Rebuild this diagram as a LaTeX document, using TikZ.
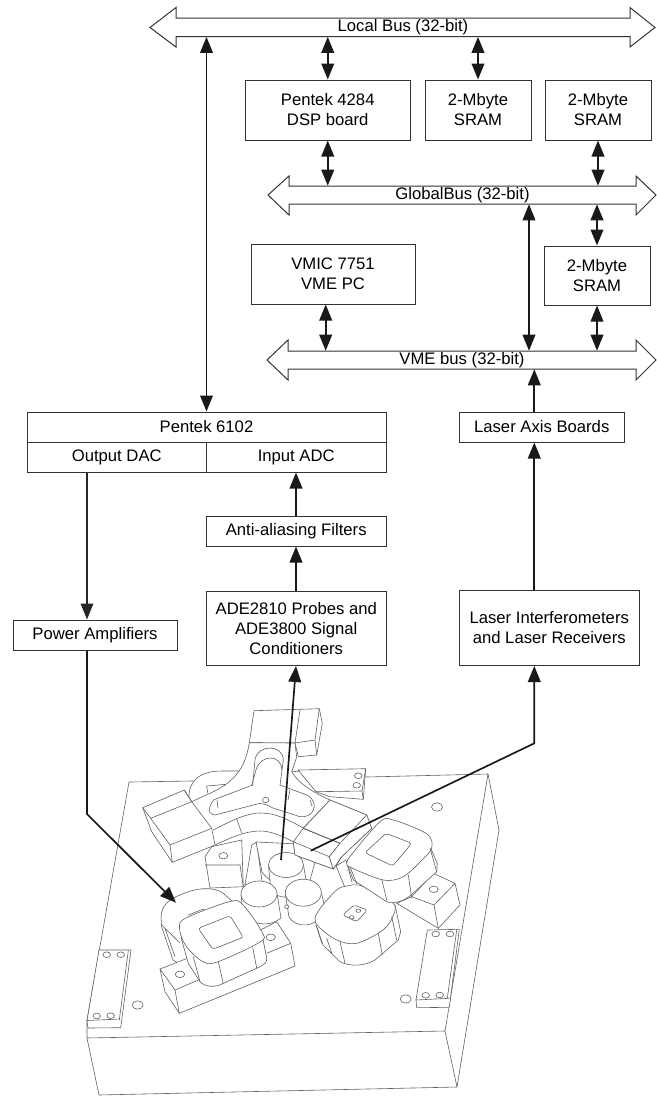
\documentclass[tikz,border=0pt]{standalone}
\usepackage{fontspec}
\setmainfont{Liberation Sans}
\usetikzlibrary{arrows.meta}
\tikzset{
  boxn/.style={draw=black!80,line width=0.75pt,inner sep=0pt,align=center,font=\fontsize{12.5}{15}\selectfont},
  busn/.style={inner sep=0pt,font=\fontsize{12.5}{15}\selectfont},
  busout/.style={draw=black!80,line width=0.75pt,line join=miter},
  tipa/.style={},
  link/.style={draw=black!90,line width=1.25pt,-{Triangle[length=12pt,width=9.5pt]}},
  thinlink/.style={draw=black!85,line width=0.8pt,-{Triangle[length=12pt,width=9.5pt]}},
  dbl/.style={draw=black!90,line width=1.25pt,{Triangle[length=12pt,width=9.5pt]}-{Triangle[length=12pt,width=9.5pt]}},
  mech/.style={draw=black!62,line width=0.45pt,fill=white,line join=round},
  mline/.style={draw=black!62,line width=0.45pt,line join=round},
}
\newcommand{\pbox}[6]{\node[boxn,minimum width={(#4-#2)*0.75pt},minimum height={(#5-#3)*0.75pt}] (#1) at ({(#2+#4)/2},{(#3+#5)/2}) {#6};}
\newcommand{\hole}[2]{\draw[mech] (#1,#2) ellipse [x radius=3.8,y radius=2.8];}
\newcommand{\bhole}[2]{\draw[mech] (#1,#2) ellipse [x radius=5.5,y radius=4.2];}
\begin{document}
\begin{tikzpicture}[x=0.75pt,y=-0.75pt]
\useasboundingbox (0,0) rectangle (657,1097);
% ---------- mechanical drawing ----------
% base plate
\draw[mech] (129,782) -- (192,781) -- (300,771) -- (367,777) -- (488,774) -- (499,830) -- (457,1087) -- (99,1095) -- (87,1038) -- (87,1020) -- cycle;
\draw[mline] (87,1038) -- (445,1031) -- (457,1087);
\draw[mline] (488,774) -- (445,1031);
\bhole{437}{807}
\bhole{137.7}{1005}
\bhole{405.7}{999}
% left rear holder
\draw[mech] (99,950) -- (131,950) -- (120.7,1027.7) -- (88,1028) -- (87,1020.7) -- cycle;
\draw[mline] (87,1020.5) -- (120,1019) (128.3,950.7) -- (119.3,1020);
\hole{106.7}{954.7}\hole{120.7}{954.7}\hole{96.7}{1016}\hole{110.7}{1015.7}
% right front holder
\draw[mech] (427.3,930) -- (459.3,929.3) -- (449.3,1007.3) -- (416.7,1007.7) -- (416,1000) -- cycle;
\draw[mline] (416,1000) -- (449.3,998.3) (456.7,930) -- (447.3,998.3);
\hole{435.7}{934}\hole{450}{934}\hole{425.7}{995.3}\hole{439.7}{995}
% back right holder
\draw[mech] (298,770) -- (365.7,768.7) -- (363.3,799.3) -- (330,796.7) -- (316,791.7) -- cycle;
\draw[mline] (316,791.7) -- (362,791) (365.7,768.7) -- (362,791) -- (363.3,799.3);
\hole{358.3}{775.7}\hole{356.7}{785.3}
% curved rear lobe
\draw[mech] (189.3,803) .. controls (187,785) and (195,771) .. (222,771) -- (242,771) -- (245,800) -- cycle;
\draw[mline] (207.7,793) -- (206.7,786) -- (230,784);
% top block
\draw[mech] (254,710.7) -- (319.3,708.7) -- (322.3,723.3) -- (316.7,755) -- (298.3,756.7) -- (295,743) -- (249.3,742.7) -- cycle;
\draw[mline] (300,710) -- (295,743) -- (315,740) -- (316.7,755) (319.3,708.7) -- (315,740);
% lower-left block behind the body
\draw[mech] (205,856.7) -- (211.7,846.7) -- (241.7,840) -- (243.3,886.7) -- (210,888) -- cycle;
\draw[mline] (205,865) -- (240,865) -- (243.3,886.7);
\draw[mech] (223.3,855.7) ellipse [x radius=4.5,y radius=3.2];
\draw[mech] (251.7,845) -- (245,885) -- (262,882) -- (256.7,842) -- cycle;
\draw[mech] (256,842) -- (262,872) .. controls (275,890) and (300,890) .. (310,880) -- (320,845) -- cycle;
% Y-shaped body
\draw[mech] (191.7,801.7) .. controls (215,790) and (243,785) .. (249.3,742.7) -- (295,743) -- (296.7,757) -- (291.7,772) .. controls (300,785) and (315,793) .. (330,800) -- (366.7,815) -- (371.7,828.3) -- (341.7,856.7) -- (333.3,869) -- (295,855) -- (293.3,841.7) .. controls (280,835) and (270,831) .. (260,831) .. controls (245,831) and (230,838) .. (215,845) -- (172.3,862.3) -- (151.7,831.7) -- (142.7,807.7) -- (184.3,790) -- cycle;
% left arm block lines
\draw[mline] (142.7,807.7) -- (150.7,818.3) -- (191.7,801.7) (184.3,790) -- (191.7,801.7) -- (211.7,828.3) -- (170,845) -- (150.7,818.3) (170,845) -- (172.3,862.3) (211.7,828.3) -- (215,845);
% groove
\draw[mline] (252.7,785) -- (255,760) .. controls (256,752) and (263,748) .. (270,748) .. controls (277,748) and (283,752) .. (283.3,760) -- (280,785) -- (306.7,795) .. controls (314,798) and (316,806) .. (313,811) .. controls (310,816) and (305,817) .. (300,816.7) -- (273,808) .. controls (268,805) and (264,804) .. (260,803.3) -- (215,815) .. controls (210,815) and (208,810) .. (210,806.7) .. controls (211,803) and (213,800) .. (215,799.3) -- cycle;
\draw[mline] (251.7,785) -- (256,770) .. controls (258,762) and (265,758) .. (270,758) .. controls (276,758) and (281,761) .. (282,770);
\draw[mline] (217,800) -- (218,808) (290,790) -- (288,800) (310,800) -- (312,806);
\draw[mech] (265.7,800) ellipse [x radius=3.2,y radius=2.8];
% lower edges of body
\draw[mline] (213.3,830) .. controls (225,824) and (245,813) .. (260,813) .. controls (275,813) and (285,818) .. (303.3,828) -- (340,843.3);
\draw[mline] (236.7,819) -- (241.7,833) (330,800) -- (303.3,828);
% cylinders
\draw[mech] (268.5,866) -- (271,890) .. controls (275,900) and (300,900) .. (307,886) -- (303.5,865) -- cycle;
\draw[mech] (286,865) ellipse [x radius=17.5,y radius=12.5];
\draw[mech] (241,895) -- (243,912) .. controls (248,925) and (270,928) .. (281,918) -- (277.3,895) -- cycle;
\draw[mech] (259,894) ellipse [x radius=18,y radius=13];
\draw[mech] (285.5,895) -- (289,917) .. controls (295,928) and (318,930) .. (325,908) -- (321.5,893) -- cycle;
\draw[mech] (303.3,892.7) ellipse [x radius=18,y radius=13.5];
\draw[mech] (286.7,906.7) ellipse [x radius=2,y radius=2];
% right block of body
\draw[mech] (293.3,841.7) -- (303.3,828.3) -- (340,843.3) -- (333.3,869) -- (295,855) -- cycle;
\draw[mline] (293.3,841.7) -- (329.3,856.7) -- (340,843.3) (329.3,856.7) -- (333.3,869);
\draw[mech] (330,800) -- (366.7,815) -- (371.7,828.3) -- (341.7,856.7) -- (333.3,869) -- (329.3,856.7) -- (340,843.3) -- (303.3,828.3) -- cycle;
\draw[mline] (303.3,828.3) -- (340,843.3) -- (366.7,815);
\draw[mline] (341,857) -- (336,866) -- (346,890) (336,866) -- (346,860) -- (352,882);
% left coil, rear
\draw[mech] (161,917) .. controls (162,905) and (168,900) .. (180,895) .. controls (195,888) and (212,886) .. (223,893) -- (233,902) -- (245,930) -- (200,975) -- (173,960) -- (161.7,927) -- cycle;
\draw[mline] (161.7,925) -- (180,943) (165,928.3) -- (175,956.7);
\draw[mline] (188.3,915) -- (203.3,909) -- (206,911.7);
% left coil base
\draw[mech] (179.3,1013.3) -- (295,966) -- (290.7,943.3) -- (276.7,921.7) -- (264,928.3) -- (183,960) -- (160,969) -- (165,991.7) -- cycle;
\draw[mline] (160,969) -- (175,990) -- (179.3,1013.3) (175,990) -- (198.3,980) (266.7,953.3) -- (290.7,943.3);
\draw[mech] (180,974.3) ellipse [x radius=4.7,y radius=3.3];
\draw[mech] (270.7,937.3) ellipse [x radius=4.7,y radius=3.3];
% left coil, front
\draw[mech] (181.7,940) -- (188.3,963.3) -- (200,981.7) .. controls (205,987) and (215,988) .. (223.3,983.3) -- (260,966.7) .. controls (265,964) and (267,962) .. (266.7,958) -- (262.3,936) -- (230,902) -- (180,928) -- cycle;
\draw[mech] plot[smooth cycle,tension=0.55] coordinates {(179.5,928) (186,918) (230,901.5) (243,905) (262,932) (260,942) (218,961.7) (203,961.7) (186,946)};
\draw[mline] (218.3,961.7) -- (223.3,983.3) (252.7,947.3) -- (256.7,968.3) (193.3,956.7) -- (200,981.7);
\draw[mech,rounded corners=2pt] (198.3,928.3) -- (230,915.7) -- (243.3,937.3) -- (212.7,949.3) -- cycle;
% lower right coil
\draw[mech] (316,925) -- (323,945) -- (340,961.7) .. controls (350,967) and (365,966) .. (375,960) -- (398.3,940) -- (400.7,931.7) -- (395,905) -- (340,900) -- cycle;
\draw[mech] plot[smooth cycle,tension=0.55] coordinates {(315,918.3) (322,906) (336.7,890) (346.7,886) (362,886) (393,903) (393,916) (383,930) (356.7,943.3) (336.7,940) (319,927)};
\draw[mline] (340,941.7) -- (345,963.3) (378.3,933.3) -- (382.3,955) (391.7,916.7) -- (396.7,940) (316.7,926.7) -- (321.7,943) (326.7,938.3) -- (331.7,953);
\draw[mech,rounded corners=2pt] (342.7,915) -- (354,905) -- (367.3,910) -- (356.7,921.7) -- cycle;
\draw[mech] (358.3,910.7) ellipse [x radius=2.4,y radius=1.7];
\draw[mech] (351.7,917.3) ellipse [x radius=2.4,y radius=1.7];
% upper right coil and block
\draw[mech] (396.7,903.3) -- (411.7,896.7) -- (433.3,873.3) -- (455,883.3) -- (460,905) -- (438.3,928.3) -- cycle;
\draw[mline] (411.7,896.7) -- (434,905) -- (455,883.3) (434,905) -- (438.3,928.3);
\draw[mech] (433.7,889.3) ellipse [x radius=4.5,y radius=3.2];
\draw[mech] (348,866) -- (353.3,880) -- (386.7,901.7) .. controls (395,905) and (405,900) .. (411,895) -- (436.7,871.7) -- (437.3,863.3) -- (430,846.7) -- (395,835) -- cycle;
\draw[mech] plot[smooth cycle,tension=0.55] coordinates {(346.7,863.3) (352,854) (380,821.7) (393.3,820) (427,834) (431.7,848) (422,860) (403.3,876.7) (383.3,880) (352,868)};
\draw[mline] (430,848) -- (436.7,871.7) (408.3,875) -- (411.7,898) (381.7,879) -- (386.7,900) (350,866.7) -- (356.7,884);
\draw[mech,rounded corners=2pt] (365,852.7) -- (386,833.3) -- (411.7,843.3) -- (392.7,866) -- cycle;
% ---------- blocks ----------
\pbox{dsp}{245}{80}{410.5}{140}{Pentek 4284\\DSP board}
\pbox{sramA}{425}{80}{531}{140}{2-Mbyte\\SRAM}
\pbox{sramB}{545}{80}{651}{140}{2-Mbyte\\SRAM}
\pbox{vmic}{251}{244}{415}{304}{VMIC 7751\\VME PC}
\pbox{sramC}{544}{246}{650}{305}{2-Mbyte\\SRAM}
\pbox{pentek}{27}{412}{386}{442}{Pentek 6102}
\pbox{dac}{27}{442}{206.5}{472}{Output DAC}
\pbox{adc}{206.5}{442}{386}{472}{Input ADC}
\pbox{aaf}{206.5}{516}{386}{546}{Anti-aliasing Filters}
\pbox{ade}{206.5}{591}{386}{665.5}{ADE2810 Probes and\\ADE3800 Signal\\Conditioners}
\pbox{pamp}{13}{620}{177}{650}{Power Amplifiers}
\pbox{lab}{459.5}{412}{624}{442}{Laser Axis Boards}
\pbox{lif}{459.5}{590.5}{639}{665.5}{Laser Interferometers\\and Laser Receivers}
% ---------- buses ----------
\draw[busout] (150,27.5) -- (176,7.5) -- (176,18) -- (630,18) -- (630,7.5) -- (655,27.5) -- (630,47) -- (630,36.7) -- (176,36.7) -- (176,47) -- cycle;
\node[busn,minimum width=340.5pt,minimum height=13.8pt] (localbus) at (403,27.4) {Local Bus (32-bit)};
\draw[busout] (268,195) -- (289,176) -- (289,186) -- (636,186) -- (636,176) -- (656,195) -- (636,215) -- (636,204) -- (289,204) -- (289,215) -- cycle;
\node[busn,minimum width=260pt,minimum height=13.5pt] (globalbus) at (462.5,195) {GlobalBus (32-bit)};
\draw[busout] (267,360) -- (288,340) -- (288,351) -- (636,351) -- (636,340) -- (656,360) -- (636,380) -- (636,369) -- (288,369) -- (288,380) -- cycle;
\node[busn,minimum width=261pt,minimum height=13.5pt] (vmebus) at (462,360) {VME bus (32-bit)};
% ---------- connectors ----------
\coordinate (xgv) at (529,0);
\coordinate (xlas) at (534.3,0);
\coordinate (xdac) at (87,0);
\coordinate (xvmic) at (325.7,0);
\coordinate (xsc) at (597,0);
\coordinate (xaf) at (296,0);
\coordinate (pacoil) at (176,902.7);
\coordinate (pabend) at (87,814);
\coordinate (probe) at (281,860);
\coordinate (lasstart) at (310.7,850.7);
\coordinate (lasbend) at (534.3,743.3);
\draw[dbl] (pentek.north) -- (pentek.north |- localbus.south);
\draw[dbl] (dsp.north) -- (dsp.north |- localbus.south);
\draw[dbl] (sramA.north) -- (sramA.north |- localbus.south);
\draw[dbl] (dsp.south) -- (dsp.south |- globalbus.north);
\draw[dbl] (sramB.south) -- (sramB.south |- globalbus.north);
\draw[dbl] (xsc |- globalbus.south) -- (xsc |- sramC.north);
\draw[dbl] (xsc |- sramC.south) -- (xsc |- vmebus.north);
\draw[dbl] (xgv |- globalbus.south) -- (xgv |- vmebus.north);
\draw[dbl] (xvmic |- vmic.south) -- (xvmic |- vmebus.north);
\draw[link] (xlas |- lab.north) -- (xlas |- vmebus.south);
\draw[link] (xlas |- lif.north) -- (xlas |- lab.south);
\draw[link] (xaf |- aaf.north) -- (xaf |- adc.south);
\draw[link] (xaf |- ade.north) -- (xaf |- aaf.south);
\draw[thinlink] (xdac |- dac.south) -- (xdac |- pamp.north);
\draw[link] (xdac |- pamp.south) -- (pabend) -- (pacoil);
\draw[link] (probe) -- (xaf |- ade.south);
\draw[link] (lasstart) -- (lasbend) -- (xlas |- lif.south);
\end{tikzpicture}
\end{document}
